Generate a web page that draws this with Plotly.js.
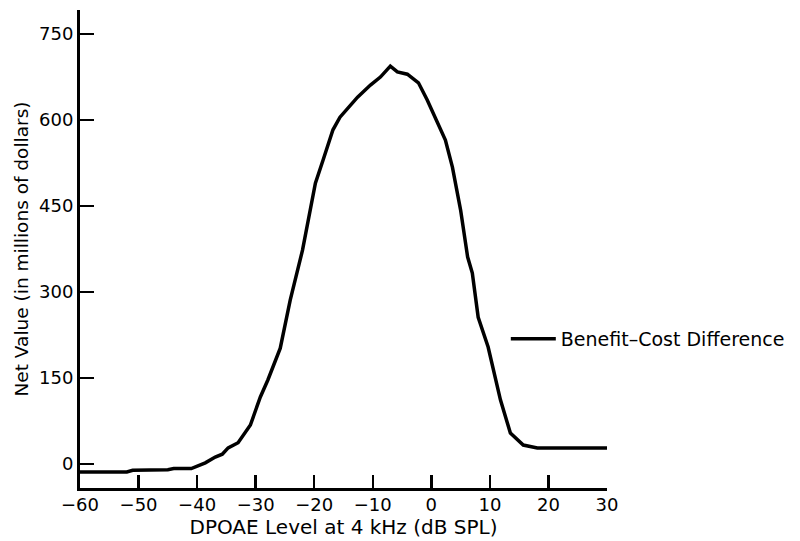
<!DOCTYPE html>
<html>
<head>
<meta charset="utf-8">
<script src="https://cdn.plot.ly/plotly-3.0.1.min.js"></script>
<style>html,body{margin:0;padding:0;background:#fff;}#chart{width:800px;height:541px;}</style>
</head>
<body>
<div id="chart"></div>
<script>
var dpoaeLevel = [-60,-52,-51,-45,-44,-41,-38.6,-36.9,-35.7,-34.7,-33,-30.9,-29.2,-27.9,-25.8,-25,-24.1,-22,-20.7,-19.8,-18.5,-16.8,-15.6,-12.6,-10.4,-8.7,-7,-5.8,-4.1,-2.2,-0.7,1,2.4,3.6,5,6.2,7,8,9.7,11.8,13.5,15.7,18.1,30];
var netValue = [-14,-14,-11,-10,-8,-8,2,12,17,28,37,68,117,147,202,239,286,373,447,490,530,583,605,640,661,675,694,684,680,665,635,595,565,518,443,361,333,256,204,112,54,33,28,28];
var xTicks = [-60,-50,-40,-30,-20,-10,0,10,20,30];
var yTicks = [0,150,300,450,600,750];
var seriesName = "Benefit\u2013Cost Difference";

var fontFam = "DejaVu Sans, sans-serif";
var trace = {
  x: dpoaeLevel, y: netValue, type: "scatter", mode: "lines",
  name: seriesName,
  line: {color: "#000", width: 3.5}
};
var layout = {
  width: 800, height: 541,
  margin: {l: 80, r: 193, t: 10, b: 53},
  paper_bgcolor: "#fff", plot_bgcolor: "#fff",
  font: {family: fontFam, size: 17, color: "#000"},
  showlegend: true,
  legend: {x: 0.808, xanchor: "left", y: 0.312, yanchor: "middle", itemwidth: 45,
           font: {family: fontFam, size: 19, color: "#000"}, bgcolor: "rgba(0,0,0,0)"},
  xaxis: {
    range: [-60, 30], tickvals: xTicks, ticktext: xTicks.map(function(v){return v<0?"\u2212"+(-v):String(v);}),
    ticks: "inside", ticklen: 13, tickwidth: 2.5, tickcolor: "#000",
    showline: true, linewidth: 3, linecolor: "#000", showgrid: false, zeroline: false,
    tickfont: {size: 18}, ticklabelstandoff: -2,
    title: {text: "DPOAE Level at 4 kHz (dB SPL)", font: {size: 20}, standoff: 0}
  },
  yaxis: {
    range: [-41.9, 792], tickvals: yTicks,
    ticks: "inside", ticklen: 14, tickwidth: 2.5, tickcolor: "#000",
    showline: true, linewidth: 3, linecolor: "#000", showgrid: false, zeroline: false,
    tickfont: {size: 18},
    title: {text: "Net Value (in millions of dollars)", font: {size: 18.5}, standoff: 6}
  }
};
Plotly.newPlot("chart", [trace], layout, {displayModeBar: false, staticPlot: true});
</script>
</body>
</html>
